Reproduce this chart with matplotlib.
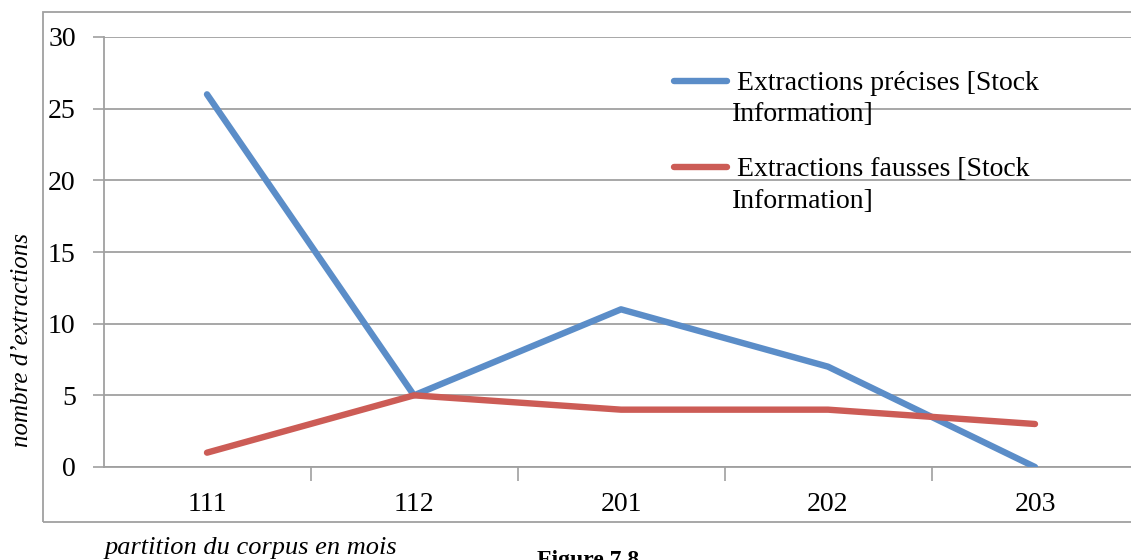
import matplotlib.pyplot as plt
from matplotlib.patches import Rectangle
from matplotlib.lines import Line2D

W, H = 1131, 560

months = ["111", "112", "201", "202", "203"]
precise = [26, 5, 11, 7, 0]
wrong = [1, 5, 4, 4, 3]
y_ticks = [0, 5, 10, 15, 20, 25, 30]

BLUE = "#5b8dc8"
RED = "#cc5c56"
GRAY = "#a0a0a0"

plt.rcParams["font.family"] = ["Liberation Serif", "DejaVu Serif"]


def fx(px):
    return px / W


def fy(py):
    return 1 - py / H


def main():
    fig = plt.figure(figsize=(W / 100, H / 100), dpi=100)
    ax = fig.add_axes([fx(103.5), fy(467), 1035 / W, 430 / H])

    x = range(len(months))
    ax.plot(x, precise, color=BLUE, lw=4.6, solid_capstyle="round", solid_joinstyle="round", zorder=3)
    ax.plot(x, wrong, color=RED, lw=4.6, solid_capstyle="round", solid_joinstyle="round", zorder=3)

    ax.set_xlim(-0.5, len(months) - 0.5)
    ax.set_ylim(0, 30)
    ax.set_yticks(y_ticks)
    ax.set_xticks(list(x), labels=months)
    ax.set_xticks([i + 0.5 for i in range(len(months) - 1)], minor=True)
    ax.tick_params(axis="x", which="major", length=0, pad=18, labelsize=20)
    ax.tick_params(axis="x", which="minor", length=10, width=1.2, color=GRAY, direction="out")
    ax.tick_params(axis="y", length=8, width=1.2, color=GRAY, pad=12, labelsize=20)

    ax.grid(axis="y", color=GRAY, lw=1.3)
    ax.set_axisbelow(True)
    for side in ["top", "right"]:
        ax.spines[side].set_visible(False)
    for side in ["left", "bottom"]:
        ax.spines[side].set_color(GRAY)
        ax.spines[side].set_linewidth(1.3)
    ax.patch.set_visible(False)

    # outer chart frame
    fig.patches.append(Rectangle((fx(43), fy(522)), 1.2, (522 - 12) / H, transform=fig.transFigure,
                                 fill=False, edgecolor=GRAY, lw=1.3, zorder=0))

    # legend drawn by hand so the swatch sits on the first line of text
    entries = [(BLUE, "Extractions précises [Stock", 81), (RED, "Extractions fausses [Stock", 167)]
    for color, label, py in entries:
        fig.add_artist(Line2D([fx(674), fx(727)], [fy(py), fy(py)], transform=fig.transFigure,
                              color=color, lw=4.6, solid_capstyle="round"))
        fig.text(fx(737), fy(py + 2), label, fontsize=20, va="center", ha="left")
        fig.text(fx(732), fy(py + 34), "Information]", fontsize=20, va="center", ha="left")

    fig.text(fx(22), fy(340), "nombre d’extractions", rotation=90, style="italic",
             fontsize=18, ha="center", va="center")
    fig.text(fx(251), fy(548), "partition du corpus en mois", style="italic",
             fontsize=19, ha="center", va="center")
    fig.text(fx(537), fy(550), "Figure 7.8", weight="bold", fontsize=17, ha="left", va="top")

    fig.savefig("out.png", dpi=100)
    plt.close(fig)


if __name__ == "__main__":
    main()
